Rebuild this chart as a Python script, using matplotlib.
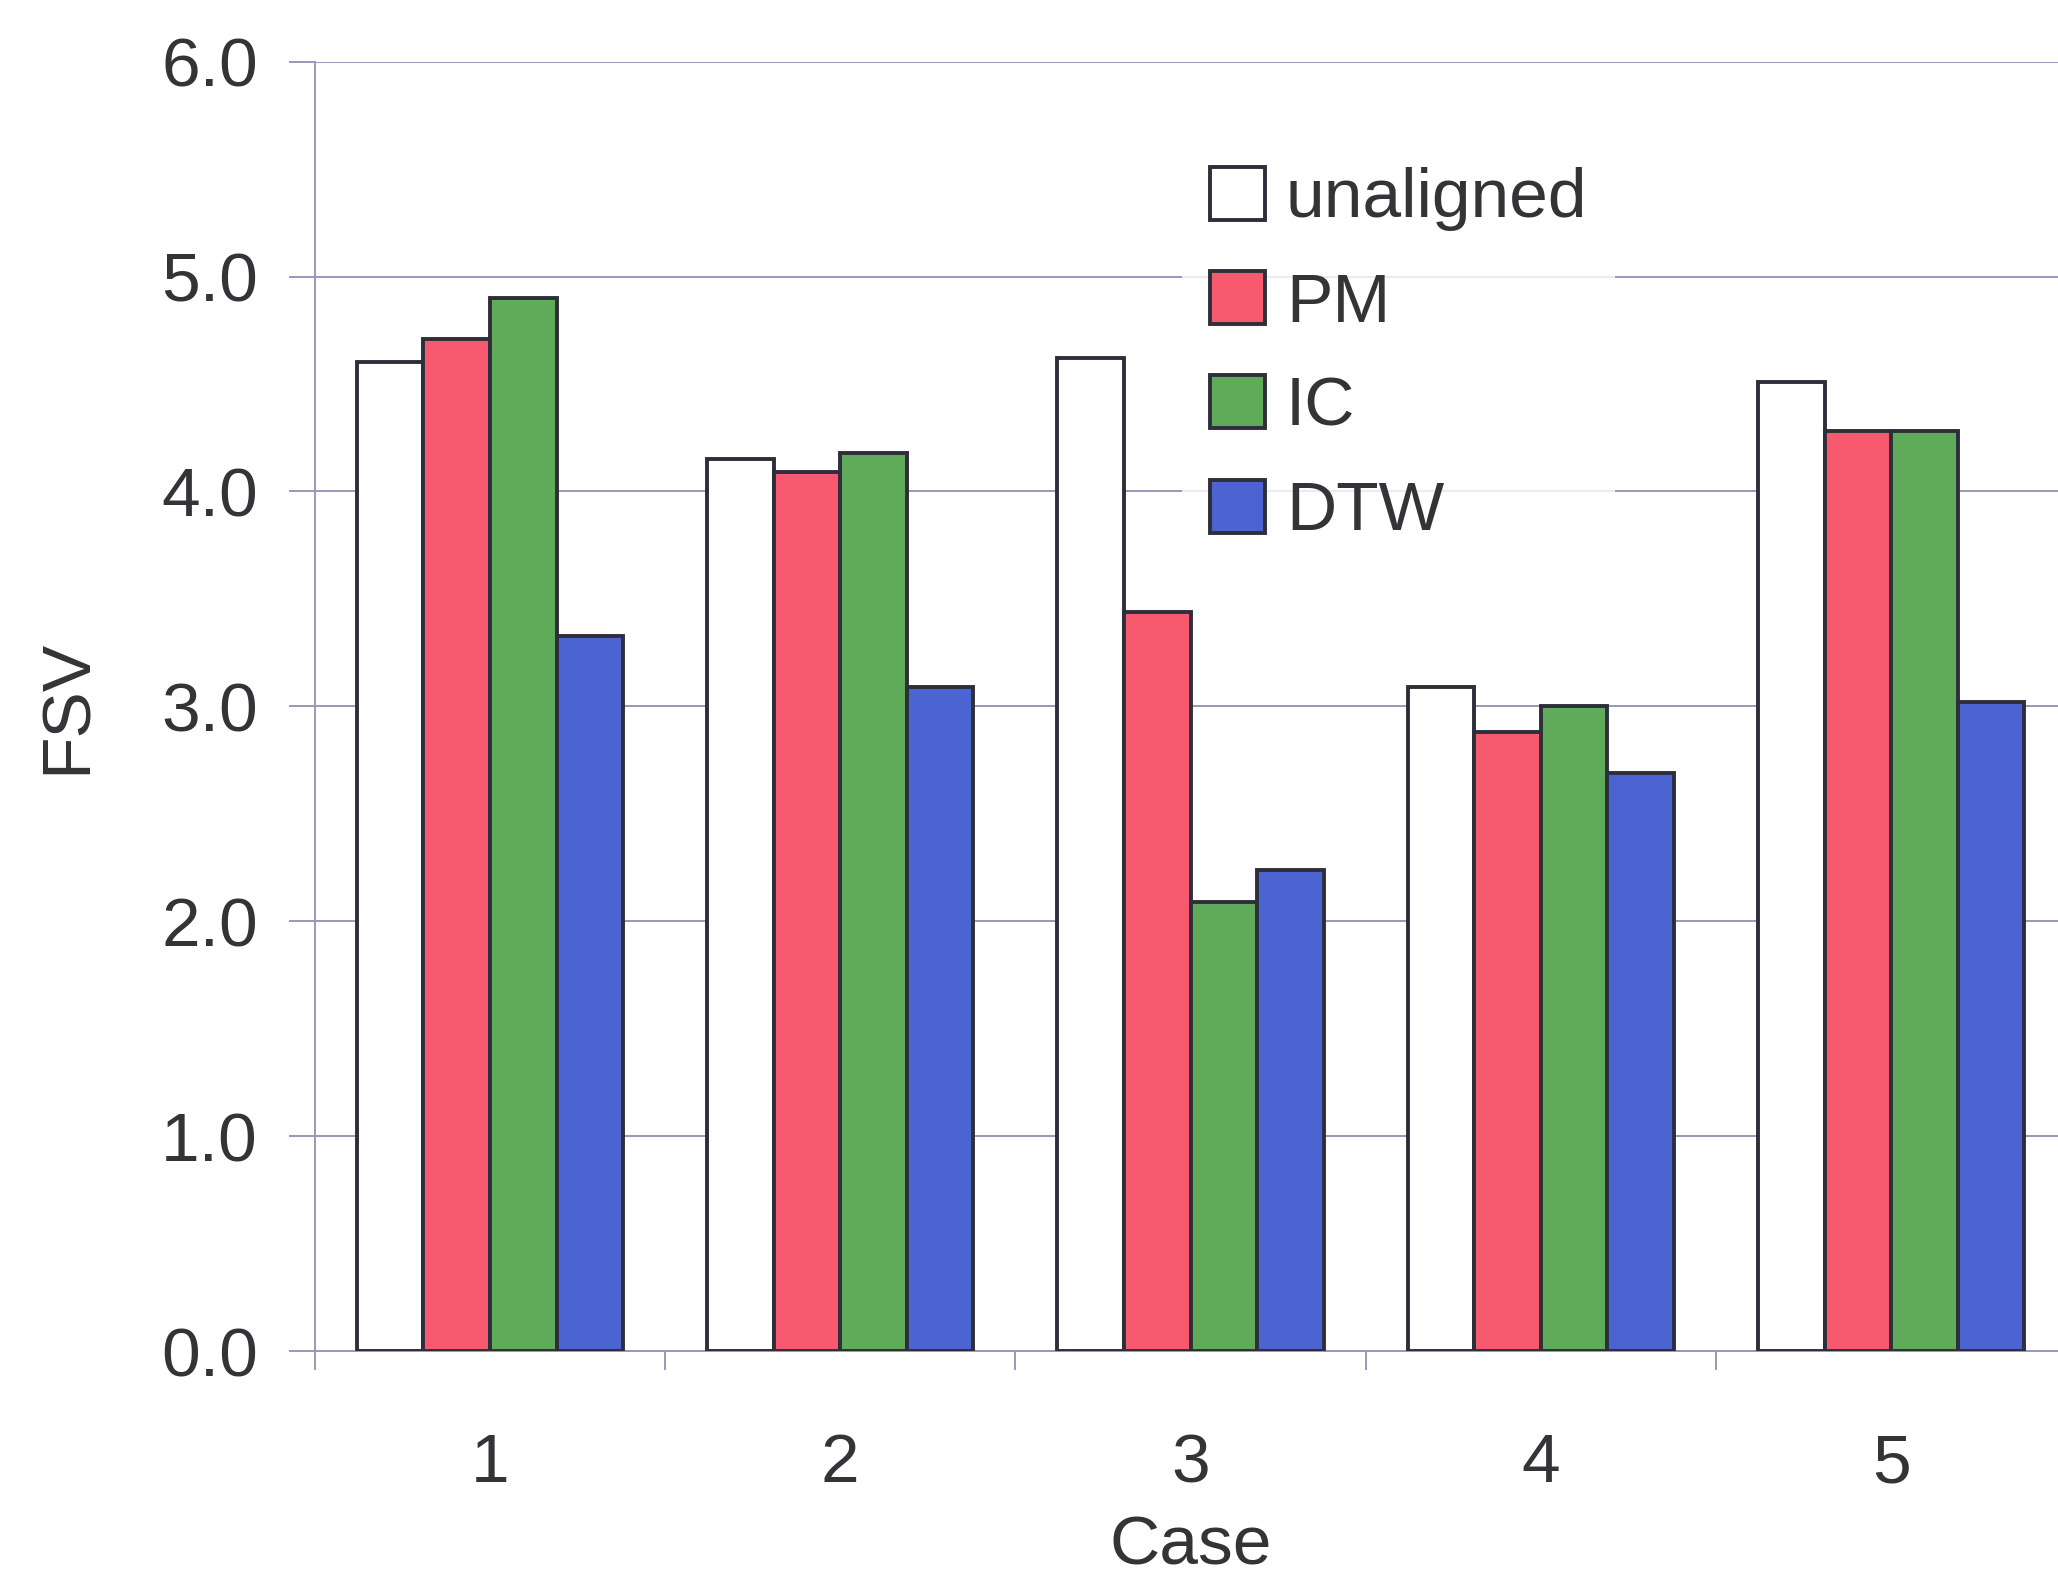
import matplotlib
matplotlib.use("Agg")
import matplotlib.pyplot as plt
import numpy as np
from matplotlib.ticker import FixedLocator

plt.rcParams['font.family'] = ['Liberation Sans', 'DejaVu Sans']

cases = ["1", "2", "3", "4", "5"]
series_names = ["unaligned", "PM", "IC", "DTW"]
unaligned = [4.60, 4.15, 4.62, 3.09, 4.51]
pm = [4.71, 4.09, 3.44, 2.88, 4.28]
ic = [4.90, 4.18, 2.09, 3.00, 4.28]
dtw = [3.33, 3.09, 2.24, 2.69, 3.02]
yticks = [0.0, 1.0, 2.0, 3.0, 4.0, 5.0, 6.0]

colors = ["#ffffff", "#f75a6e", "#5fab5a", "#4b64d2"]
edge = "#2e2e3a"
grid_c = "#9898b8"
text_c = "#333338"
fs = 50

fig = plt.figure(figsize=(20.58, 15.77), dpi=100)
ax = fig.add_axes([0.153, 0.143, 0.851, 0.818])

x = np.arange(1, len(cases) + 1)
w = 0.19
data = [unaligned, pm, ic, dtw]
for i, (vals, name, c) in enumerate(zip(data, series_names, colors)):
    ax.bar(x + (i - 1.5) * w, vals, width=w, color=c, edgecolor=edge,
           linewidth=2.8, label=name, zorder=3)

ax.set_xlim(0.5, 5.5)
ax.set_ylim(0, 6)
ax.set_yticks(yticks)
ax.set_yticklabels([f"{v:.1f}" for v in yticks])
ax.set_xticks(x)
ax.set_xticklabels(cases)
ax.xaxis.set_minor_locator(FixedLocator(np.arange(0.5, 6.0, 1.0)))

ax.yaxis.grid(True, color=grid_c, linewidth=1.4, zorder=0)
ax.set_axisbelow(True)
for s in ["top", "right"]:
    ax.spines[s].set_visible(False)
for s in ["left", "bottom"]:
    ax.spines[s].set_color(grid_c)
    ax.spines[s].set_linewidth(1.4)

ax.tick_params(axis='y', which='major', direction='out', length=19, width=1.4,
               color=grid_c, labelsize=fs, labelcolor=text_c, pad=22)
ax.tick_params(axis='x', which='major', length=0, labelsize=fs,
               labelcolor=text_c, pad=58)
ax.tick_params(axis='x', which='minor', direction='out', length=14, width=1.4,
               color=grid_c)

ax.set_xlabel("Case", fontsize=fs, color=text_c)
ax.xaxis.set_label_coords(0.5, -0.126)
ax.set_ylabel("FSV", fontsize=fs, color=text_c)
ax.yaxis.set_label_coords(-0.123, 0.5)

leg = ax.legend(loc='upper left', bbox_to_anchor=(0.495, 0.94),
                borderaxespad=0, fontsize=fs, frameon=True, fancybox=False,
                handlelength=0.8, handleheight=0.8, handletextpad=0.3,
                labelspacing=0.57, borderpad=0.4)
leg.get_frame().set_facecolor('white')
leg.get_frame().set_edgecolor('none')
for t in leg.get_texts():
    t.set_color(text_c)
for p in leg.get_patches():
    p.set_linewidth(2.8)

fig.savefig("out.png", dpi=100, facecolor="white")
